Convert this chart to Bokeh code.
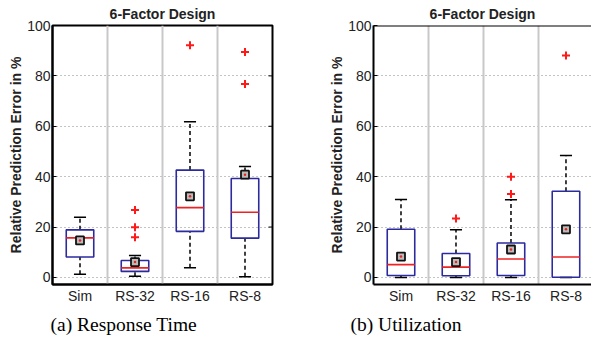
from bokeh.plotting import figure
from bokeh.models import (ColumnDataSource, Range1d, FixedTicker, Grid, Title, Span)
from bokeh.layouts import row
from bokeh.transform import dodge
from bokeh.embed import file_html
from bokeh.resources import INLINE

# ---------------- data ----------------
categories = ["Sim", "RS-32", "RS-16", "RS-8"]
y_ticks = [0, 20, 40, 60, 80, 100]

# (a) Response Time
rt_low = [1.3, 0.5, 3.8, 0.3]
rt_q1 = [8.1, 2.4, 18.3, 15.6]
rt_median = [15.7, 3.8, 27.7, 25.9]
rt_q3 = [18.9, 6.7, 42.6, 39.3]
rt_high = [23.9, 8.7, 61.8, 44.0]
rt_mean = [14.7, 6.1, 32.2, 40.8]
rt_outlier_cat = ["RS-32", "RS-32", "RS-32", "RS-16", "RS-8", "RS-8"]
rt_outlier_val = [26.8, 19.9, 16.0, 92.2, 89.5, 76.8]

# (b) Utilization
ut_low = [0.0, 0.0, 0.0, 0.0]
ut_q1 = [0.8, 0.7, 0.8, 0.1]
ut_median = [5.1, 4.1, 7.3, 8.1]
ut_q3 = [19.1, 9.5, 13.7, 34.2]
ut_high = [30.9, 18.9, 30.8, 48.4]
ut_mean = [8.3, 6.1, 11.1, 19.1]
ut_outlier_cat = ["RS-32", "RS-16", "RS-16", "RS-8"]
ut_outlier_val = [23.4, 40.0, 33.1, 88.1]

TITLE = "6-Factor Design"
YLABEL = "Relative Prediction Error in %"

BOX_COLOR = "#2b2b9f"
MED_COLOR = "#ee2222"
TEXT_COLOR = "#222222"
FONT = "Liberation Sans"


def make_panel(low, q1, med, q3, high, mean, out_cat, out_val, caption,
               width, min_left, min_right, x_end, cut_right, cap_offset):
    p = figure(width=width, height=345, output_backend="svg", toolbar_location=None,
               x_range=Range1d(0, x_end), y_range=Range1d(-2.8, 100),
               min_border_left=min_left, min_border_right=min_right,
               min_border_top=24, min_border_bottom=61)
    p.background_fill_color = "white"
    p.border_fill_color = "white"

    p.xgrid.visible = False
    p.ygrid.ticker = FixedTicker(ticks=y_ticks[:-1])
    p.ygrid.grid_line_color = "#888888"
    p.ygrid.grid_line_dash = "1 3"
    p.ygrid.grid_line_width = 1
    sep = Grid(dimension=0, ticker=FixedTicker(ticks=[1, 2, 3]),
               grid_line_color="#c8c8c8", grid_line_width=2)
    p.add_layout(sep)

    xs = [categories.index(c) + 0.5 for c in categories]
    src = ColumnDataSource(dict(x=xs, low=low, q1=q1, med=med, q3=q3, high=high,
                                mean=mean))
    p.segment(x0="x", y0="q3", x1="x", y1="high", source=src, line_color="black",
              line_width=1.5, line_dash="4 3")
    p.segment(x0="x", y0="low", x1="x", y1="q1", source=src, line_color="black",
              line_width=1.5, line_dash="4 3")
    p.segment(x0=dodge("x", -0.11), y0="high", x1=dodge("x", 0.11), y1="high",
              source=src, line_color="black", line_width=1.5)
    p.segment(x0=dodge("x", -0.11), y0="low", x1=dodge("x", 0.11), y1="low",
              source=src, line_color="black", line_width=1.5)
    p.vbar(x="x", bottom="q1", top="q3", width=0.5, source=src, fill_color=None,
           line_color=BOX_COLOR, line_width=1.6)
    p.segment(x0=dodge("x", -0.25), y0="med", x1=dodge("x", 0.25), y1="med",
              source=src, line_color=MED_COLOR, line_width=1.6)
    p.scatter(x="x", y="mean", source=src, marker="square", size=8,
              fill_color="#bbbbbb", line_color="#111111", line_width=1.8)
    p.scatter(x="x", y="mean", source=src, marker="circle", size=2.5,
              fill_color=MED_COLOR, line_color=None)
    osrc = ColumnDataSource(dict(x=[categories.index(c) + 0.5 for c in out_cat],
                                 y=out_val))
    p.scatter(x="x", y="y", source=osrc, marker="cross", size=8,
              line_color="#ff1a1a", line_width=2)

    xa = p.xaxis[0]
    xa.ticker = FixedTicker(ticks=xs)
    xa.major_label_overrides = {x: c for x, c in zip(xs, categories)}
    xa.major_tick_in = 0
    xa.major_tick_out = 0
    xa.minor_tick_line_color = None
    xa.axis_line_color = "black"
    xa.axis_line_width = 2
    xa.major_label_text_font = FONT
    xa.major_label_text_font_size = "14px"
    xa.major_label_text_color = TEXT_COLOR
    xa.major_label_standoff = 3

    ya = p.yaxis[0]
    ya.ticker = FixedTicker(ticks=y_ticks)
    ya.major_tick_in = 4
    ya.major_tick_out = 0
    ya.major_tick_line_color = "black"
    ya.minor_tick_line_color = None
    ya.axis_line_color = "black"
    ya.axis_line_width = 2
    ya.major_label_text_font = FONT
    ya.major_label_text_font_size = "14px"
    ya.major_label_text_color = TEXT_COLOR
    ya.major_label_standoff = 2
    ya.axis_label = YLABEL
    ya.axis_label_text_font = FONT
    ya.axis_label_text_font_size = "14px"
    ya.axis_label_text_font_style = "bold"
    ya.axis_label_text_color = TEXT_COLOR
    ya.axis_label_standoff = 0

    if not cut_right:
        p.outline_line_color = "black"
        p.outline_line_width = 2
        rsrc = ColumnDataSource(dict(x=[x_end] * (len(y_ticks) - 2), y=y_ticks[1:-1]))
        p.scatter(x="x", y="y", source=rsrc, marker="dash", size=8,
                  line_color="black", line_width=1)
    else:
        p.outline_line_color = None
        p.add_layout(Span(location=100, dimension="width", line_color="black",
                          line_width=2))

    p.title = Title(text=TITLE, align="center", text_font=FONT,
                    text_font_size="14px", text_font_style="bold",
                    text_color=TEXT_COLOR, standoff=7)
    p.add_layout(Title(text=caption, align="left", text_font="Liberation Serif",
                       text_font_size="19.5px", text_font_style="normal",
                       text_color="black", offset=cap_offset, standoff=10), "below")
    return p


p1 = make_panel(rt_low, rt_q1, rt_median, rt_q3, rt_high, rt_mean,
                rt_outlier_cat, rt_outlier_val, "(a)  Response Time",
                width=300, min_left=52, min_right=28, x_end=4, cut_right=False,
                cap_offset=-2)
p2 = make_panel(ut_low, ut_q1, ut_median, ut_q3, ut_high, ut_mean,
                ut_outlier_cat, ut_outlier_val, "(b)  Utilization",
                width=291, min_left=73, min_right=0, x_end=3.964, cut_right=True,
                cap_offset=-23)

layout = row(p1, p2)
open("out.html", "w").write(file_html(layout, INLINE))
